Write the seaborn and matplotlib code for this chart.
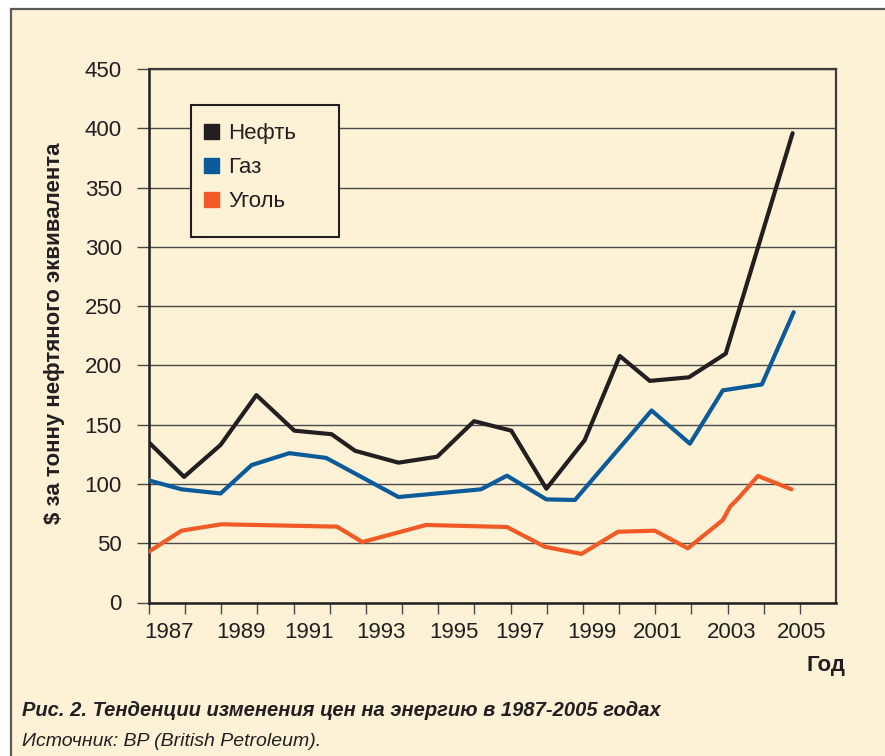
import matplotlib
matplotlib.use('Agg')
import matplotlib.pyplot as plt
import matplotlib.transforms as mtransforms
import seaborn as sns
import pandas as pd
from matplotlib.lines import Line2D
from matplotlib.patches import Rectangle

# ---- data ----
oil_years = [1987.0, 1987.97, 1988.98, 1989.97, 1991.02, 1992.05, 1992.70, 1993.9, 1994.97,
             1995.99, 1997.02, 1997.99, 1999.05, 2000.02, 2000.85, 2001.93, 2002.95, 2004.8]
oil_values = [135, 106, 133, 175, 145, 142, 128, 118, 123,
              153, 145, 96, 137, 208, 187, 190, 210, 396]

gas_years = [1987.0, 1987.9, 1988.98, 1989.84, 1990.88, 1991.9, 1993.9, 1996.18, 1996.9,
             1997.99, 1998.78, 2000.9, 2001.96, 2002.87, 2003.95, 2004.83]
gas_values = [103, 95.5, 92, 116, 126, 122, 89, 95.5, 107,
              87, 86.5, 162, 134, 179, 184, 245]

coal_years = [1987.0, 1987.9, 1989.0, 1992.2, 1992.9, 1994.66, 1996.9, 1997.95, 1998.96,
              1999.97, 2000.99, 2001.9, 2002.87, 2003.07, 2003.34, 2003.84, 2004.77]
coal_values = [43, 60.6, 66, 64, 51, 65.4, 63.7, 47, 41,
               59.7, 60.6, 45.7, 69.6, 80.8, 89.3, 106.8, 95.5]

series_names = ['Нефть', 'Газ', 'Уголь']
series_colors = ['#231f20', '#0b5a9a', '#f15a24']
y_ticks = [0, 50, 100, 150, 200, 250, 300, 350, 400, 450]
x_tick_years = list(range(1987, 2006))
x_label_years = list(range(1987, 2006, 2))

ylabel_text = '$ за тонну нефтяного эквивалента'
xlabel_text = 'Год'
caption_text = 'Рис. 2. Тенденции изменения цен на энергию в 1987-2005 годах'
source_text = 'Источник: BP (British Petroleum).'

# horizontal shift (pixels) of each year label from its tick, as in the reference
x_label_shift_px = [19.5, 20, 15.5, 15, 16, 9, 8.5, 2, 4.5, 2]

# ---- build table ----
frames = []
for name, yrs, vals in zip(series_names, [oil_years, gas_years, coal_years],
                           [oil_values, gas_values, coal_values]):
    frames.append(pd.DataFrame({'year': yrs, 'value': vals, 'series': name}))
df = pd.concat(frames, ignore_index=True)
palette = dict(zip(series_names, series_colors))

sns.set_theme(style='white')
plt.rcParams['font.family'] = ['Liberation Sans', 'DejaVu Sans']

BG = '#fdf2d6'
INK = '#231f20'
W, H = 885, 756
fig = plt.figure(figsize=(W / 100, H / 100), dpi=100, facecolor='white')

# outer cream panel with border (behind everything)
fig.patches.append(Rectangle((10.5 / W, -0.01), 1.1, 1 - 8.5 / H + 0.01,
                             transform=fig.transFigure, facecolor=BG,
                             edgecolor='#5a5a5a', linewidth=1.6, zorder=-10))

AX_L, AX_R, AX_T, AX_B = 149, 836, 69.2, 602.5
AW, AH = AX_R - AX_L, AX_B - AX_T
ax = fig.add_axes([AX_L / W, 1 - AX_B / H, AW / W, AH / H])
ax.set_zorder(2)
ax.set_facecolor(BG)

sns.lineplot(data=df, x='year', y='value', hue='series', palette=palette,
             hue_order=series_names, estimator=None, sort=False,
             linewidth=3.0, legend=False, ax=ax, zorder=3)

ax.set_xlim(1987, 2006)
ax.set_ylim(0, 450)
ax.set_yticks(y_ticks)
ax.set_xticks(x_tick_years)
ax.set_xticklabels([])
ax.grid(axis='y', color='#4a4a4a', linewidth=1.0, zorder=1)
ax.grid(axis='x', visible=False)

for side in ['left', 'bottom']:
    ax.spines[side].set_color(INK)
    ax.spines[side].set_linewidth(1.8)
for side in ['top', 'right']:
    ax.spines[side].set_color('#3a3a3a')
    ax.spines[side].set_linewidth(1.6)

ax.tick_params(axis='y', which='major', direction='out', length=9, width=1.0,
               color='#4a4a4a', pad=10.5, labelsize=16, labelcolor=INK, left=True)
ax.tick_params(axis='x', which='major', direction='out', length=8, width=1.0,
               color='#4a4a4a', labelbottom=False, bottom=True)
ax.set_xlabel('')
ax.set_ylabel('')

# year labels, placed slightly right of their ticks like the reference
blend = mtransforms.blended_transform_factory(ax.transData, ax.transAxes)
for yr, dx in zip(x_label_years, x_label_shift_px):
    tr = blend + mtransforms.ScaledTranslation(dx / 100, 0, fig.dpi_scale_trans)
    ax.text(yr, (AX_B - 638) / AH, str(yr), transform=tr, ha='center', va='baseline',
            fontsize=16, color=INK, clip_on=False)

# legend: box drawn as a patch, entries by the legend
def ax_xy(px, py):
    return (px - AX_L) / AW, (AX_B - py) / AH

bx0, by0 = ax_xy(191, 237)
bx1, by1 = ax_xy(339, 105)
ax.add_patch(Rectangle((bx0, by0), bx1 - bx0, by1 - by0, transform=ax.transAxes,
                       facecolor=BG, edgecolor=INK, linewidth=1.5, zorder=4))

handles = [Line2D([], [], marker='s', linestyle='none', markersize=10.8,
                  markerfacecolor=c, markeredgecolor=c) for c in series_colors]
leg = ax.legend(handles, series_names, loc='upper left',
                bbox_to_anchor=ax_xy(203.7, 122.5), borderaxespad=0, borderpad=0,
                fontsize=16, frameon=False, labelspacing=0.59,
                handlelength=0.7, handletextpad=0.4)
for t in leg.get_texts():
    t.set_color(INK)
leg.set_zorder(5)

fig.text(55 / W, 1 - 333 / H, ylabel_text, rotation=90, ha='center', va='center',
         fontsize=16, fontweight='bold', color=INK)
fig.text(826 / W, 1 - 665 / H, xlabel_text, ha='center', va='center',
         fontsize=16, fontweight='bold', color=INK)
fig.text(22 / W, 1 - 710 / H, caption_text, ha='left', va='center',
         fontsize=14.5, fontweight='bold', style='italic', color=INK)
fig.text(22 / W, 1 - 742 / H, source_text, ha='left', va='center',
         fontsize=14, style='italic', color=INK)

fig.savefig('out.png', dpi=100, facecolor='white')
